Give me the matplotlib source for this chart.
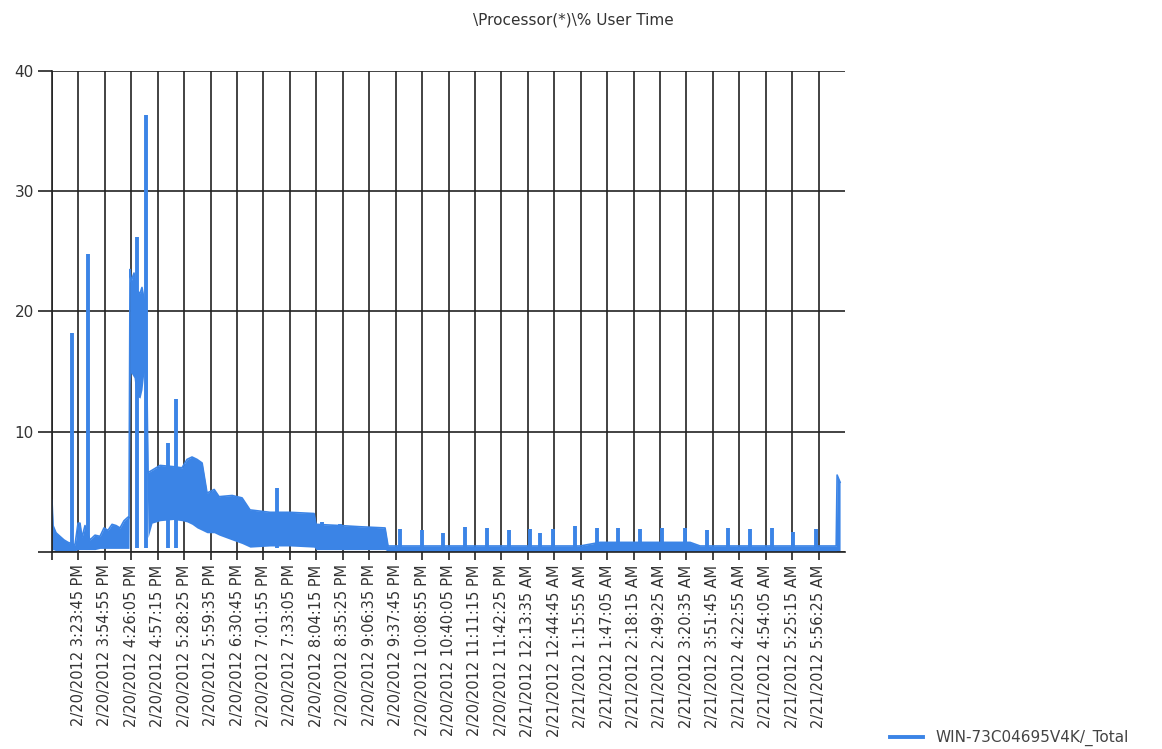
import matplotlib.pyplot as plt
import numpy as np

plt.rcParams['font.family'] = ['DejaVu Sans']

# time in minutes after 2/20/2012 2:52:35 PM, values in % user time
# band of the dense counter trace (upper and lower edge)
band_t = [0, 1.2, 4.7, 9.4, 14.2, 18.9, 27.1, 30.7, 33.0, 35.4, 38.9, 44.8,
          50.7, 56.6, 61.3, 66.0, 70.8, 75.5, 80.2, 84.9, 89.6, 90.8,
          92.0, 93.2, 96.7, 99.1, 103.8, 106.1, 108.5, 110.8, 113.2, 118.0,
          127.4, 142.7, 153.3, 159.2, 165.1, 171.0, 177.0, 182.8, 191.2,
          197.0, 212.4, 224.1, 233.5, 257.1, 280.7, 309.0, 311.3, 339.6,
          363.2, 392.7, 396.2, 622.7, 646.2, 752.4, 764.2, 924.6, 925.7, 929.2]
band_hi = [4.3, 2.2, 1.6, 1.3, 1.0, 0.8, 0.6, 2.4, 2.4, 1.2, 2.2, 1.0,
           1.4, 1.3, 2.0, 1.8, 2.3, 2.2, 2.0, 2.6, 2.9, 2.8,
           23.5, 22.5, 23.2, 21.8, 21.5, 22.0, 21.0, 20.5, 6.6, 6.8,
           7.2, 7.1, 7.0, 7.7, 7.9, 7.7, 7.4, 4.9, 5.2,
           4.6, 4.7, 4.5, 3.5, 3.3, 3.3, 3.2, 2.3, 2.2,
           2.1, 2.0, 0.5, 0.5, 0.8, 0.8, 0.5, 0.5, 6.4, 5.8]
band_lo = [0.1, 0.2, 0.1, 0.1, 0.1, 0.1, 0.1, 0.2, 0.2, 0.2, 0.2, 0.2,
           0.2, 0.3, 0.3, 0.3, 0.3, 0.3, 0.3, 0.3, 0.3, 0.3,
           14.0, 14.9, 14.5, 13.0, 12.8, 13.5, 15.0, 14.0, 1.2, 2.4,
           2.6, 2.7, 2.6, 2.5, 2.3, 2.0, 1.8, 1.6, 1.6,
           1.4, 1.0, 0.7, 0.4, 0.5, 0.5, 0.4, 0.2, 0.2,
           0.2, 0.2, 0.05, 0.05, 0.05, 0.05, 0.05, 0.05, 0.1, 0.1]

# short spikes above the band
spike_t = [23.6, 42.5, 100.2, 110.8, 136.8, 146.2, 265.3, 318.4, 339.6,
           410.4, 436.3, 461.1, 487.0, 513.0, 538.9, 563.7, 575.5, 590.8,
           616.8, 642.7, 667.5, 693.4, 719.4, 746.5, 772.4, 797.2, 823.1,
           849.1, 873.8, 901.0]
spike_v = [18.2, 24.8, 26.2, 36.3, 9.1, 12.7, 5.3, 2.5, 2.3,
           1.9, 1.8, 1.6, 2.1, 2.0, 1.8, 1.9, 1.6, 1.9,
           2.2, 2.0, 2.0, 1.9, 2.0, 2.0, 1.8, 2.0, 1.9,
           2.0, 1.7, 1.9]

x_labels = ['2/20/2012 3:23:45 PM', '2/20/2012 3:54:55 PM', '2/20/2012 4:26:05 PM',
            '2/20/2012 4:57:15 PM', '2/20/2012 5:28:25 PM', '2/20/2012 5:59:35 PM',
            '2/20/2012 6:30:45 PM', '2/20/2012 7:01:55 PM', '2/20/2012 7:33:05 PM',
            '2/20/2012 8:04:15 PM', '2/20/2012 8:35:25 PM', '2/20/2012 9:06:35 PM',
            '2/20/2012 9:37:45 PM', '2/20/2012 10:08:55 PM', '2/20/2012 10:40:05 PM',
            '2/20/2012 11:11:15 PM', '2/20/2012 11:42:25 PM', '2/21/2012 12:13:35 AM',
            '2/21/2012 12:44:45 AM', '2/21/2012 1:15:55 AM', '2/21/2012 1:47:05 AM',
            '2/21/2012 2:18:15 AM', '2/21/2012 2:49:25 AM', '2/21/2012 3:20:35 AM',
            '2/21/2012 3:51:45 AM', '2/21/2012 4:22:55 AM', '2/21/2012 4:54:05 AM',
            '2/21/2012 5:25:15 AM', '2/21/2012 5:56:25 AM']
step = 31 + 10 / 60  # minutes between labels

blue = '#3b84e6'

fig = plt.figure(figsize=(11.62, 7.49), dpi=100)
ax = fig.add_axes([52 / 1162, 1 - 552 / 749, (845 - 52) / 1162, (552 - 71) / 749])

ax.fill_between(band_t, band_lo, band_hi, color=blue, linewidth=0)
ax.plot(band_t, band_hi, color=blue, linewidth=1.2, label='WIN-73C04695V4K/_Total')
ax.vlines(spike_t, 0.3, spike_v, color=blue, linewidth=2.8)

ax.set_xlim(0, 935)
ax.set_ylim(0, 40)
ax.set_yticks([0, 10, 20, 30, 40])
ax.set_yticklabels(['', '10', '20', '30', '40'])
ax.set_xticks(np.arange(len(x_labels) + 1) * step)
ax.set_xticklabels([''] + x_labels, rotation=90)

ax.grid(True, color='#222222', linewidth=1.2)
ax.set_axisbelow(True)
ax.tick_params(axis='y', length=10, width=1.2, color='#222222', labelsize=11,
               labelcolor='#333333', pad=3)
ax.tick_params(axis='x', length=6, width=1.2, color='#222222', labelsize=10.5,
               labelcolor='#333333', pad=3)
for s in ['top', 'right']:
    ax.spines[s].set_visible(False)
ax.spines['left'].set_color('#222222')
ax.spines['bottom'].set_color('#222222')
ax.spines['left'].set_linewidth(1.2)
ax.spines['bottom'].set_linewidth(1.2)

fig.suptitle('\\Processor(*)\\% User Time', x=573 / 1162, y=1 - 20 / 749,
             va='center', fontsize=11, color='#333333')

leg = fig.legend(loc='center left', bbox_to_anchor=(876 / 1162, 1 - 738 / 749),
                 frameon=False, fontsize=11, handlelength=2.2, labelcolor='#444444')
leg.get_lines()[0].set_linewidth(2.8)

fig.savefig('out.png', dpi=100)
